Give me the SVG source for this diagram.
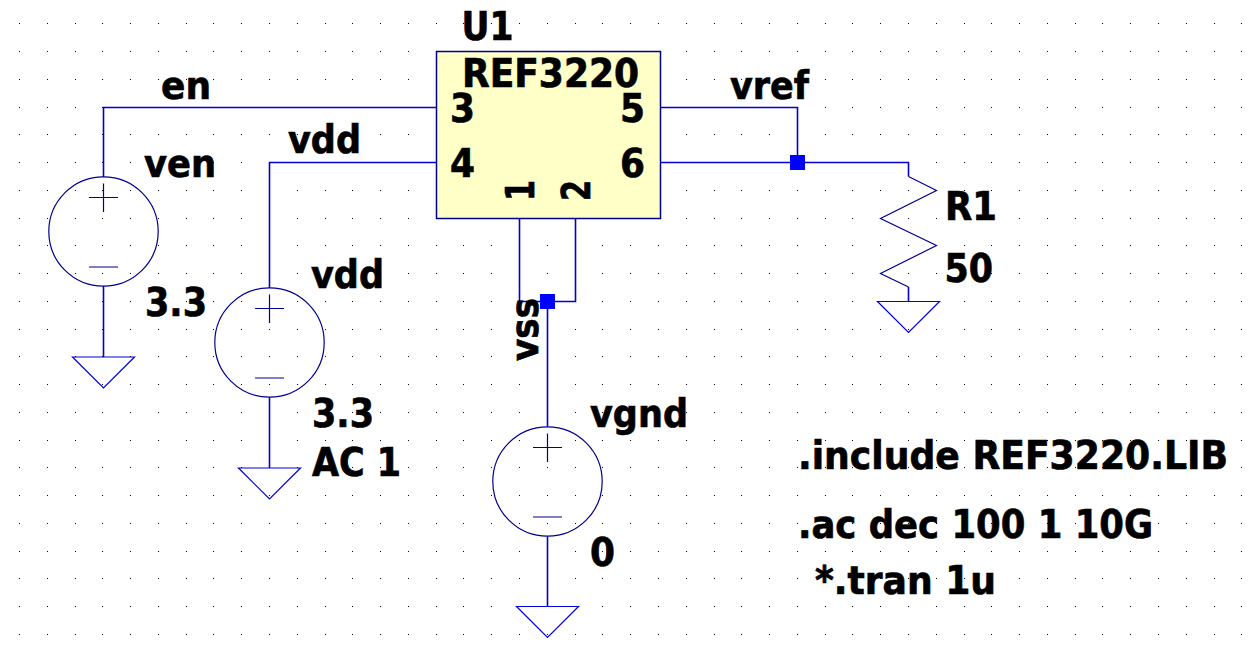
<svg xmlns="http://www.w3.org/2000/svg" xmlns:xlink="http://www.w3.org/1999/xlink" width="1256" height="647" viewBox="0 0 1256 647">
<style>
text{font-family:"DejaVu Sans","Liberation Sans",sans-serif;font-weight:bold;font-size:38.5px;fill:#000;stroke:#000;stroke-width:.7px}
.w{fill:none;stroke:#0000d0;stroke-width:1.6}
.s{fill:none;stroke:#000090;stroke-width:1.2}
.g{fill:none;stroke:#0000e0;stroke-width:1.2}
.j{fill:#0000ff}
.grid{fill:none;stroke:#000;stroke-width:1;stroke-dasharray:1 26.78;shape-rendering:crispEdges}
</style>
<defs>
<g id="vsrc">
<circle cx="0" cy="0" r="54.7" class="s"/>
<path d="M-14.5-34H14.5M0-48V-19.500M-14.5 35.500H14.500" class="s"/>
</g>
<path id="gnd" d="M-31 0H31L0 31Z" class="g"/>
</defs>
<rect width="1256" height="647" fill="#fff"/>
<path id="grid" class="grid" d="M19 23.500H1256M19 51.500H1256M19 79.500H1256M19 107.500H1256M19 134.500H1256M19 162.500H1256M19 190.500H1256M19 218.500H1256M19 245.500H1256M19 273.500H1256M19 301.500H1256M19 329.500H1256M19 356.500H1256M19 384.500H1256M19 412.500H1256M19 440.500H1256M19 467.500H1256M19 495.500H1256M19 523.500H1256M19 551.500H1256M19 578.500H1256M19 606.500H1256M19 634.500H1256"/>
<g id="connectors">
<path class="w" d="M436.500 107.500H103.500V177M103.500 286V357"/>
<path class="w" d="M436.500 162.500H269.500V288M269.500 397V468"/>
<path class="w" d="M658.500 107.500H797.500V162.500"/>
<path class="w" d="M658.500 162.500H908.500V176.500"/>
<path class="w" d="M908.500 287V301.500"/>
<path class="w" d="M519.500 218.500V301.500H575.500V218.500"/>
<path class="w" d="M547.500 301.500V426.500M547.500 536.500V606.500"/>
</g>
<g id="U1">
<rect x="436.500" y="51.500" width="224" height="167" fill="#ffffc8" stroke="#000090" stroke-width="1.500"/>
<text x="461.500" y="39.500" textLength="52" lengthAdjust="spacingAndGlyphs">U1</text>
<text x="462" y="87" textLength="177" lengthAdjust="spacingAndGlyphs">REF3220</text>
<text x="450" y="122" textLength="25" lengthAdjust="spacingAndGlyphs">3</text>
<text x="450" y="177" textLength="25" lengthAdjust="spacingAndGlyphs">4</text>
<text x="620" y="122" textLength="25" lengthAdjust="spacingAndGlyphs">5</text>
<text x="620" y="177" textLength="25" lengthAdjust="spacingAndGlyphs">6</text>
<text transform="translate(534 201) rotate(-90)" textLength="21" lengthAdjust="spacingAndGlyphs">1</text>
<text transform="translate(589.500 201) rotate(-90)" textLength="21" lengthAdjust="spacingAndGlyphs">2</text>
</g>
<g id="ven">
<use xlink:href="#vsrc" href="#vsrc" x="103.500" y="231.500"/>
<use xlink:href="#gnd" href="#gnd" x="103.500" y="357"/>
<text x="144" y="177" textLength="72" lengthAdjust="spacingAndGlyphs">ven</text>
<text x="145" y="316" textLength="62" lengthAdjust="spacingAndGlyphs">3.3</text>
</g>
<g id="vdd">
<use xlink:href="#vsrc" href="#vsrc" x="269.500" y="342.500"/>
<use xlink:href="#gnd" href="#gnd" x="269.500" y="468"/>
<text x="311" y="288" textLength="73" lengthAdjust="spacingAndGlyphs">vdd</text>
<text x="312" y="427" textLength="62" lengthAdjust="spacingAndGlyphs">3.3</text>
<text x="312" y="476" textLength="89" lengthAdjust="spacingAndGlyphs">AC 1</text>
</g>
<g id="vgnd">
<use xlink:href="#vsrc" href="#vsrc" x="547.500" y="481.500"/>
<use xlink:href="#gnd" href="#gnd" x="547.500" y="606.500"/>
<text x="590" y="427" textLength="98" lengthAdjust="spacingAndGlyphs">vgnd</text>
<text x="590" y="566" textLength="25" lengthAdjust="spacingAndGlyphs">0</text>
</g>
<g id="R1">
<path class="s" d="M908.500 176.500L936.500 190.500L880.500 218.500L936.500 245.500L880.500 273.500L908.500 287"/>
<use xlink:href="#gnd" href="#gnd" x="908.500" y="301.500"/>
<text x="945" y="220" textLength="52" lengthAdjust="spacingAndGlyphs">R1</text>
<text x="944.500" y="282" textLength="48.500" lengthAdjust="spacingAndGlyphs">50</text>
</g>
<g id="junctions">
<rect class="j" x="790" y="155" width="15" height="15"/>
<rect class="j" x="540" y="294" width="15" height="15"/>
</g>
<g id="labels">
<text x="161" y="98.500" textLength="50" lengthAdjust="spacingAndGlyphs">en</text>
<text x="288" y="153" textLength="73" lengthAdjust="spacingAndGlyphs">vdd</text>
<text x="730" y="99" textLength="79" lengthAdjust="spacingAndGlyphs">vref</text>
<text transform="translate(537.500 361) rotate(-90)" textLength="63" lengthAdjust="spacingAndGlyphs">vss</text>
<text x="798" y="469" textLength="430" lengthAdjust="spacingAndGlyphs">.include REF3220.LIB</text>
<text x="798" y="538" textLength="355" lengthAdjust="spacingAndGlyphs">.ac dec 100 1 10G</text>
<text x="815" y="594" textLength="181" lengthAdjust="spacingAndGlyphs">*.tran 1u</text>
</g>
</svg>
